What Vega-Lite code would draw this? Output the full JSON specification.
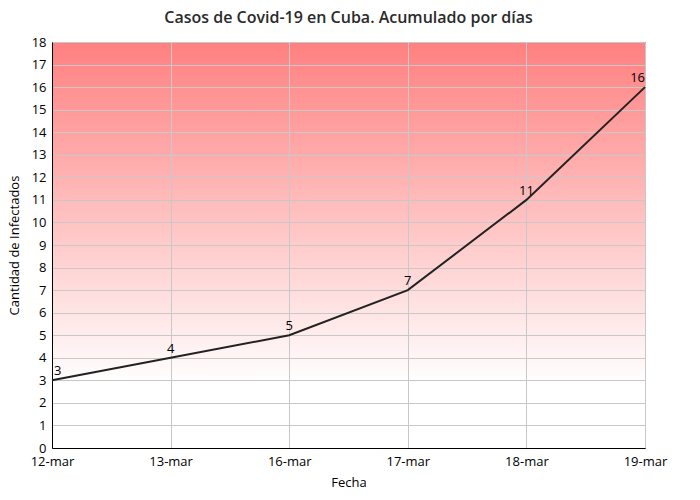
{
  "$schema": "https://vega.github.io/schema/vega-lite/v6.json",
  "autosize": {"type": "none"},
  "width": 593,
  "height": 406,
  "padding": {"left": 52, "top": 42, "right": 55, "bottom": 52},
  "background": "#ffffff",
  "title": {"text": "Casos de Covid-19 en Cuba. Acumulado por días", "font": "Open Sans", "fontSize": 16, "fontWeight": 600, "color": "#2a2a2a", "offset": 10, "anchor": "middle"},
  "config": {
    "font": "Open Sans",
    "view": {
      "stroke": "#000000",
      "strokeWidth": 1,
      "fill": {"gradient": "linear", "x1": 0, "y1": 0, "x2": 0, "y2": 1, "stops": [{"offset": 0, "color": "#ff8080"}, {"offset": 0.84, "color": "#ffffff"}]}
    },
    "axis": {"labelFont": "Open Sans", "labelFontSize": 13, "labelColor": "#000000", "labelOverlap": false, "titleFont": "Open Sans", "titleFontSize": 13, "titleFontWeight": "normal", "titleColor": "#000000", "grid": true, "gridColor": "#c8c8c8", "gridOpacity": 1, "domainColor": "#000000", "ticks": false, "labelPadding": 6}
  },
  "data": {"values": [
    {"fecha": "12-mar", "casos": 3},
    {"fecha": "13-mar", "casos": 4},
    {"fecha": "16-mar", "casos": 5},
    {"fecha": "17-mar", "casos": 7},
    {"fecha": "18-mar", "casos": 11},
    {"fecha": "19-mar", "casos": 16}
  ]},
  "encoding": {
    "x": {"field": "fecha", "type": "ordinal", "sort": null, "scale": {"type": "point", "padding": 0}, "axis": {"title": "Fecha", "labelAngle": 0, "grid": true, "titlePadding": 8, "labelPadding": 7}},
    "y": {"field": "casos", "type": "quantitative", "scale": {"domain": [0, 18], "nice": false}, "axis": {"title": "Cantidad de Infectados", "values": [0,1,2,3,4,5,6,7,8,9,10,11,12,13,14,15,16,17,18], "titlePadding": 10}}
  },
  "layer": [
    {"mark": {"type": "line", "color": "#222222", "strokeWidth": 2}},
    {"mark": {"type": "text", "dy": -9, "fontSize": 13, "color": "#000000", "align": {"expr": "datum.fecha == '12-mar' ? 'left' : datum.fecha == '19-mar' ? 'right' : 'center'"}, "dx": {"expr": "datum.fecha == '12-mar' ? 2 : 0"}}, "encoding": {"text": {"field": "casos", "type": "quantitative"}}}
  ]
}
